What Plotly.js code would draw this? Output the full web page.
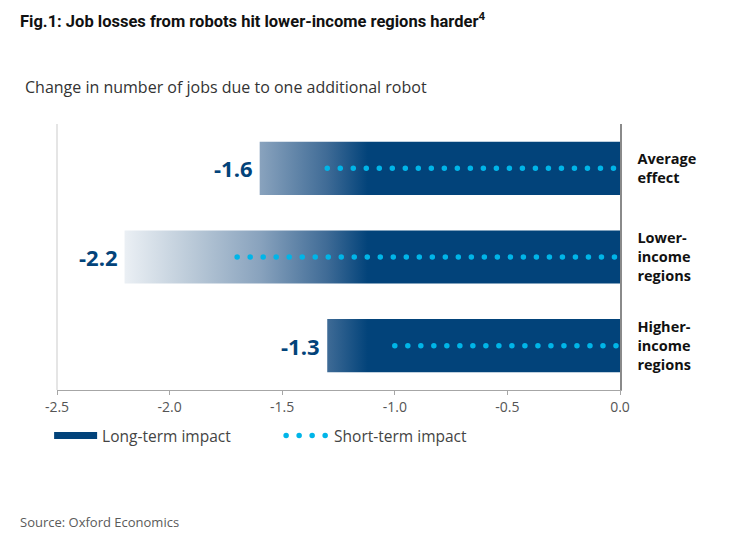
<!DOCTYPE html>
<html>
<head>
<meta charset="utf-8">
<script src="https://cdn.plot.ly/plotly-3.0.1.min.js"></script>
<style>
  html, body { margin: 0; padding: 0; background: #ffffff; }
  #chart { width: 743px; height: 541px; }
</style>
</head>
<body>
<div id="chart"></div>
<script>
// Job losses per additional robot, by region type
const categories = ['Average effect', 'Lower-income regions', 'Higher-income regions'];
const categoryLabels = ['Average<br>effect', 'Lower-<br>income<br>regions', 'Higher-<br>income<br>regions'];
const longTerm = [-1.6, -2.2, -1.3];
const shortTerm = [-1.3, -1.7, -1.0];
const xTickVals = [-2.5, -2.0, -1.5, -1.0, -0.5, 0.0];
const xTickText = ['-2.5', '-2.0', '-1.5', '-1.0', '-0.5', '0.0'];

const NAVY = '#02437a';
const CYAN = '#00b5e8';
const FONT = '"Open Sans", "Noto Sans", sans-serif';
const BAR_HALF = 0.3;

const traces = [];

// legend entry for the bars
traces.push({
  type: 'scatter', mode: 'lines', x: [null], y: [null],
  name: 'Long-term impact', line: { color: NAVY, width: 7 },
  hoverinfo: 'skip', legendgroup: 'long'
});

// long-term bars: filled polygons with a horizontal fade towards the bar end
longTerm.forEach(function (v, i) {
  traces.push({
    type: 'scatter', mode: 'none',
    x: [v, 0, 0, v, v],
    y: [i - BAR_HALF, i - BAR_HALF, i + BAR_HALF, i + BAR_HALF, i - BAR_HALF],
    fill: 'toself',
    fillgradient: {
      type: 'horizontal',
      start: -2.25,
      stop: -1.12,
      colorscale: [
        [0, '#f3f6f9'],
        [0.3, '#bccbd9'],
        [0.58, '#88a2bd'],
        [0.84, '#3f6b96'],
        [1, NAVY]
      ]
    },
    showlegend: false, hoverinfo: 'skip', legendgroup: 'long'
  });
});

// short-term impact: dotted lines from the value back to zero
shortTerm.forEach(function (v, i) {
  traces.push({
    type: 'scatter', mode: 'lines',
    x: [v, 0], y: [i, i],
    name: 'Short-term impact',
    line: { color: CYAN, width: 5.5, dash: '0.01px,13px' },
    showlegend: i === 0, legendgroup: 'short', hoverinfo: 'skip'
  });
});

const annotations = longTerm.map(function (v, i) {
  return {
    x: v, y: i, xref: 'x', yref: 'y',
    text: '<b>' + v.toFixed(1) + '</b>',
    showarrow: false, xanchor: 'right', yanchor: 'middle', xshift: -5,
    font: { family: FONT, size: 22, color: NAVY }
  };
});

annotations.push({
  xref: 'paper', yref: 'paper', x: -0.061, y: 1.139,
  xanchor: 'left', yanchor: 'middle', showarrow: false,
  text: 'Change in number of jobs due to one additional robot',
  font: { family: FONT, size: 16, color: '#333333' }
});
annotations.push({
  xref: 'paper', yref: 'paper', x: -0.07, y: -0.496,
  xanchor: 'left', yanchor: 'middle', showarrow: false,
  text: 'Source: Oxford Economics',
  font: { family: FONT, size: 13, color: '#5a5a5a' }
});

const layout = {
  width: 743, height: 541,
  margin: { l: 57, r: 123, t: 124, b: 151 },
  paper_bgcolor: '#ffffff', plot_bgcolor: '#ffffff',
  title: {
    text: '<b>Fig.1: Job losses from robots hit lower-income regions harder<sup style="font-size:7px">4</sup></b>',
    x: 20 / 743, xref: 'container', xanchor: 'left',
    y: 1 - 21 / 541, yref: 'container', yanchor: 'middle',
    font: { family: 'Roboto, sans-serif', size: 16.5, color: '#111111' }
  },
  xaxis: {
    range: [-2.5, 0], tickvals: xTickVals, ticktext: xTickText,
    showline: true, linecolor: '#a6a6a6', linewidth: 1.2,
    ticks: 'outside', ticklen: 4, tickcolor: '#a6a6a6',
    showgrid: false, zeroline: false,
    tickfont: { family: FONT, size: 14, color: '#555555' },
    fixedrange: true
  },
  yaxis: {
    range: [2.5, -0.5], tickvals: [0, 1, 2], ticktext: categoryLabels,
    side: 'right', showline: true, linecolor: '#8a8a8a', linewidth: 1.5,
    ticks: '', showgrid: false, zeroline: false, ticklabelstandoff: 13,
    tickfont: { family: FONT, size: 14.5, color: '#111111', weight: 'bold' },
    fixedrange: true
  },
  shapes: [{
    type: 'line', xref: 'paper', yref: 'paper', x0: 0, x1: 0, y0: 0, y1: 1,
    line: { color: '#dddddd', width: 1.5 }, layer: 'below'
  }],
  showlegend: true,
  legend: {
    orientation: 'h', x: -0.014, xanchor: 'left', y: -0.173, yanchor: 'middle',
    font: { family: FONT, size: 15.5, color: '#444444' },
    itemwidth: 43, entrywidth: 174, traceorder: 'normal',
    bgcolor: 'rgba(0,0,0,0)'
  },
  annotations: annotations
};

const gd = document.getElementById('chart');

// dotted strokes get round caps so each dash renders as a circle
function roundDots() {
  gd.querySelectorAll('path.js-line').forEach(function (p) {
    const d = p.style.strokeDasharray;
    if (d && d !== 'none' && d.indexOf('13px') !== -1) {
      p.style.strokeLinecap = 'round';
    }
  });
}

Plotly.newPlot(gd, traces, layout, { displayModeBar: false, staticPlot: true }).then(function () {
  roundDots();
  gd.on('plotly_afterplot', roundDots);
});
</script>
</body>
</html>
